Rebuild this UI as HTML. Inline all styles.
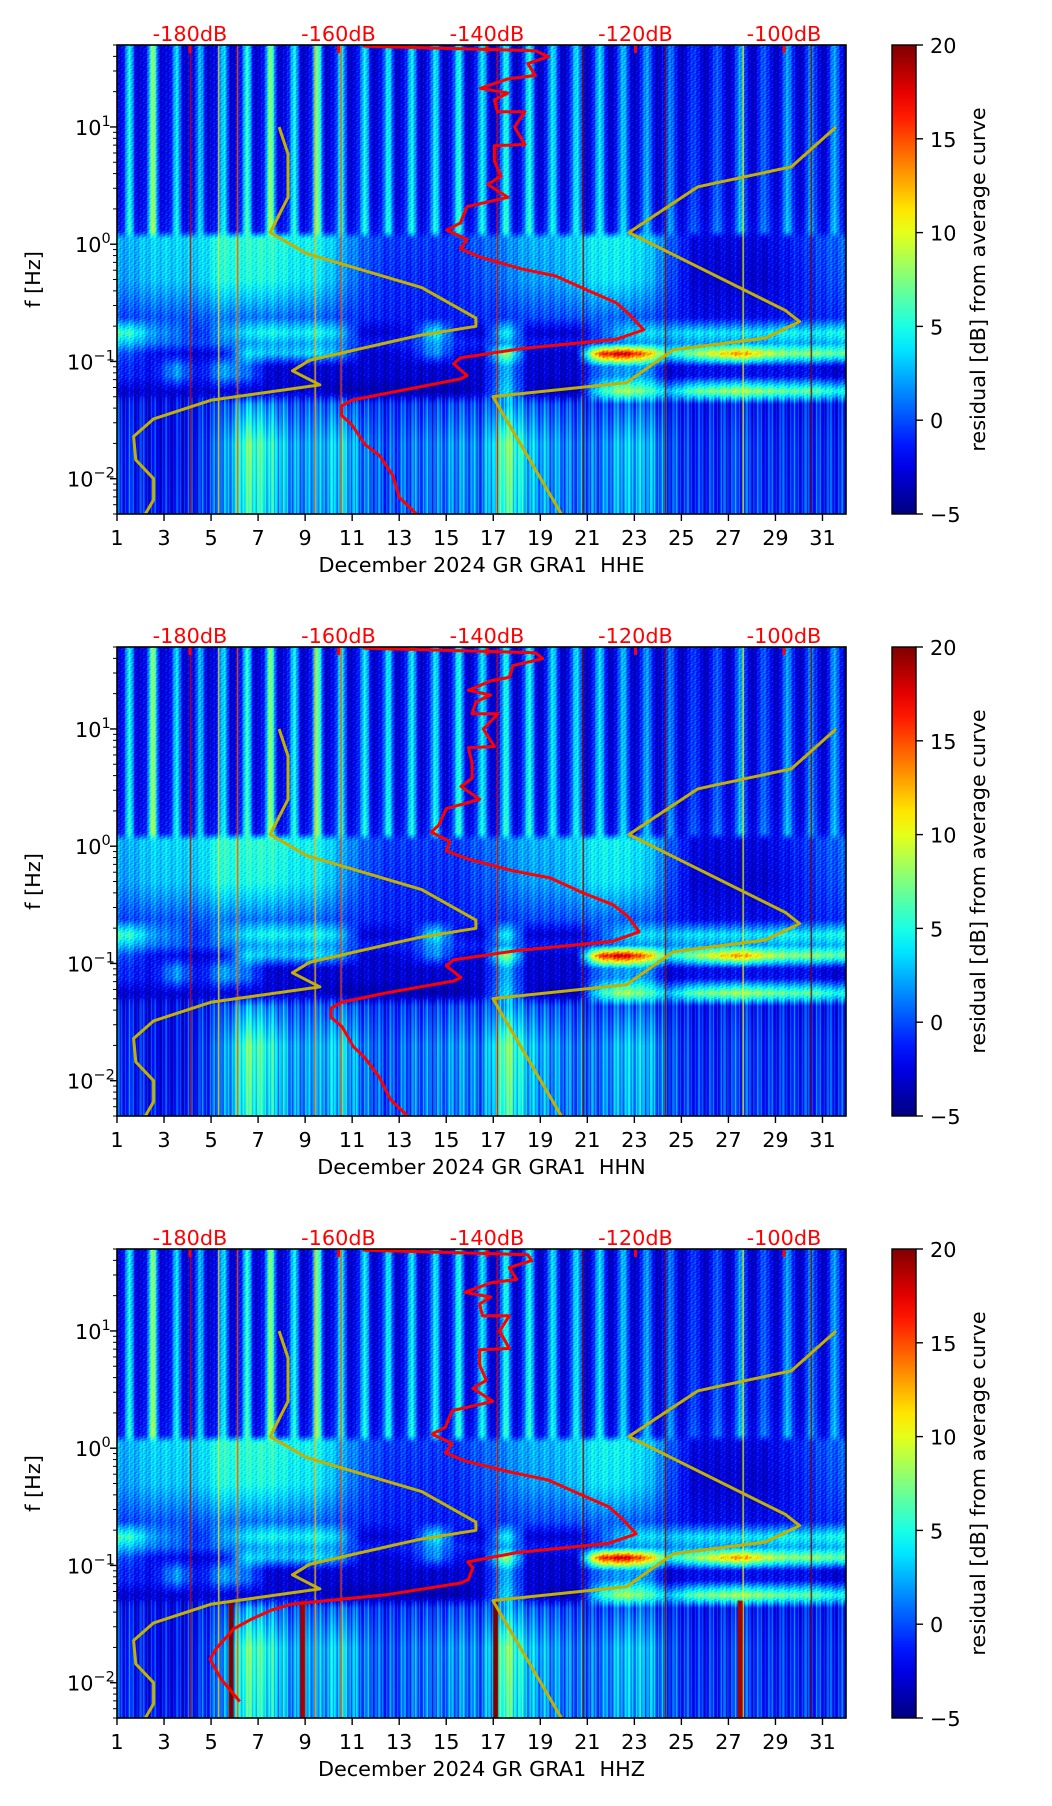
<!DOCTYPE html>
<html><head><meta charset="utf-8">
<style>
html,body{margin:0;padding:0;background:#fff;}
#root{position:relative;width:1052px;height:1806px;overflow:hidden;font-family:"DejaVu Sans","Liberation Sans",sans-serif;}
canvas{position:absolute;}
svg{position:absolute;left:0;top:0;}
text{white-space:pre;}
</style></head>
<body>
<div id="root">
<canvas id="c0" width="729" height="469" style="left:117px;top:45px"></canvas>
<canvas id="c1" width="729" height="469" style="left:117px;top:647px"></canvas>
<canvas id="c2" width="729" height="469" style="left:117px;top:1249px"></canvas>
<svg id="ov" width="1052" height="1806"></svg>
</div>
<script>
// ---- data ----
const channels = ["HHE","HHN","HHZ"];
const xTicks = [1,3,5,7,9,11,13,15,17,19,21,23,25,27,29,31];
const dbTicks = [-180,-160,-140,-120,-100];
const yTickExp = [1,0,-1,-2];
const cbTicks = [-5,0,5,10,15,20];
// per-day residual levels (dB) by frequency band
const stripe = [6,10,5,4,5,7,10,6,9,6,6,6,6,6,7,6,7,7,6,6,6,5,4,3,1,2,4,2,4,3,4];
const midBand = [2,3,3,3,5,5,5,4,4,2,0,-1,-1,-1,-1,0,1,2,2,3,4,4,3,0,-3,-3,-3,-3,-2,-1,0];
const band020 = [6,2,1,-1,2,4,5,4,5,3,-3,-3,-2,5,-2,-3,5,-3,-3,-3,0,3,4,3,4,4,4,4,5,4,5];
const band012 = [0,-2,-2,-3,-2,4,3,3,4,2,-3,-3,-2,2,-2,-3,9,-3,-3,-3,16,19,14,5,8,11,14,10,8,8,7];
const band009 = [-1,-2,2,-2,2,1,-3,-3,-3,-3,-3,-3,-3,-3,-3,-3,3,-3,-3,-3,1,2,2,-3,-2,-2,-2,-2,-2,-2,-3];
const band006 = [-3,-3,-3,-3,-3,-3,-3,-3,-3,-4,-4,-4,-4,-4,-4,-3,4,-3,-4,-4,5,9,7,3,7,8,9,8,7,7,5];
const lowBand = [-1,-2,-2,-1,1,7,5,2,2,4,1,0,1,1,2,1,8,3,2,1,1,3,3,0,-1,-1,0,-1,-1,-1,-1];
const spikeDays = [4.1,5.3,6.1,9.4,10.5,17.15,20.8,24.3,27.6,30.5];
const spikeVals = [18,10,15,12,15,18,20,20,10,20];
const lowSpikeDays3 = [5.85,8.9,17.1,27.5];
const lowSpikeVals3 = [20,19,21,19];
// noise models (dB vs log10 f)
const nlnmLogf = [1.0,0.77,0.40,0.10,-0.08,-0.37,-0.63,-0.70,-0.78,-0.99,-1.08,-1.20,-1.33,-1.49,-1.64,-1.84,-2.0,-2.18,-2.30];
const nlnmDb = [-168.0,-166.8,-166.8,-169.2,-164.3,-148.8,-141.5,-141.5,-149.3,-163.9,-166.2,-162.5,-177.1,-184.9,-187.6,-187.3,-184.9,-184.9,-186.0];
const nhnmLogf = [1.0,0.66,0.49,0.10,-0.565,-0.66,-0.80,-0.90,-1.18,-1.30,-2.30];
const nhnmDb = [-93.0,-99.0,-111.6,-120.9,-99.8,-97.9,-102.5,-114.9,-121.2,-139.2,-130.0];
// average PSD curves
const redLogf = [1.69,1.65,1.60,1.54,1.44,1.41,1.33,1.29,1.23,1.13,1.13,1.0,0.85,0.84,0.71,0.58,0.51,0.40,0.32,0.18,0.12,0.04,-0.04,-0.11,-0.21,-0.27,-0.40,-0.50,-0.60,-0.73,-0.81,-0.89,-0.97,-1.02,-1.12,-1.15,-1.25,-1.33,-1.38,-1.46,-1.54,-1.71,-1.80,-1.97,-2.16,-2.30];
const redDbHHE = [-156.7,-133.5,-131.7,-134.5,-133.5,-137.2,-140.9,-137.2,-139.0,-138.6,-134.9,-136.3,-134.9,-139.0,-139.0,-138.1,-139.9,-137.2,-142.7,-143.6,-145.4,-142.7,-143.6,-140.9,-135.4,-130.8,-126.2,-122.6,-120.8,-118.9,-122.6,-135.4,-143.6,-144.5,-142.7,-143.6,-151.8,-158.2,-159.6,-159.6,-158.2,-156.4,-154.5,-152.7,-151.8,-149.5];
const redDbHHN = [-156.7,-133.5,-132.5,-136.5,-137.0,-139.5,-142.5,-139.5,-141.5,-142.0,-138.5,-140.5,-139.0,-142.5,-142.0,-142.0,-143.5,-141.0,-145.5,-146.5,-147.5,-145.0,-145.5,-142.5,-136.5,-131.5,-127.0,-123.0,-121.0,-119.5,-123.0,-136.0,-144.5,-145.5,-143.5,-144.5,-153.5,-159.5,-161.0,-161.0,-159.5,-158.0,-156.5,-154.5,-153.0,-150.7];
const redDbHHZ = [-156.7,-134.5,-134.0,-137.0,-136.0,-139.5,-143.0,-139.5,-141.0,-140.6,-137.0,-138.3,-137.0,-141.0,-141.0,-140.1,-141.9,-139.2,-144.7,-145.6,-147.4,-144.7,-145.6,-142.9,-136.4,-131.8,-127.2,-123.6,-121.8,-119.9,-123.6,-136,-142.6,-141.9,-142.5,-143.5,-153.6,-166.3,-169,-171.8,-174.1,-176.5,-177.3,-175.8,-173.3];
const redDbs = [redDbHHE, redDbHHN, redDbHHZ];

// ---- layout ----
const X0=117, X1=846, PH=469, tops=[45,647,1249];
const LOGTOP=Math.log10(50), LOGBOT=Math.log10(0.005);
function xDay(d){return X0+(d-1)/(32-1)*(X1-X0);}
function xDb(db){return 190+(db+180)*7.425;}
function yLog(top,l){return top+(LOGTOP-l)/(LOGTOP-LOGBOT)*PH;}

function jet(t){t=Math.max(0,Math.min(1,t));
  const c=v=>Math.max(0,Math.min(1,1.5-Math.abs(v)));
  return [c(4*t-3)*255,c(4*t-2)*255,c(4*t-1)*255];}
function dayInterp(arr,day){let u=day-1.5;let i=Math.floor(u);let f=u-i;
  const a=arr[Math.max(0,Math.min(30,i))],b=arr[Math.max(0,Math.min(30,i+1))];return a+(b-a)*f;}

function drawHeat(p){
  const cv=document.getElementById('c'+p);const ctx=cv.getContext('2d');
  const W=cv.width,H=cv.height;const img=ctx.createImageData(W,H);
  for(let x=0;x<W;x++){
    const day=1+x/(W)*31;const di=Math.max(0,Math.min(30,Math.floor(day)-1));
    const fr=day-Math.floor(day);
    const s=Math.exp(-Math.pow((fr-0.5)/0.2,2));
    const tex=1.3*Math.sin(x*1.71)+0.9*Math.sin(x*0.53+1)+0.7*Math.sin(x*3.1+2);
    const up=-2.5+(stripe[di]+2.5)*s*0.85;
    const mid=dayInterp(midBand,day),b20=dayInterp(band020,day),b12=dayInterp(band012,day),b09=dayInterp(band009,day),b06=dayInterp(band006,day),lo=dayInterp(lowBand,day);
    const anch=[[1.7,up-0.5],[0.35,up],[0.12,up+0.5],[0.05,mid+0.5],[-0.3,mid],[-0.62,mid*0.4-1],[-0.75,b20],[-0.84,b20*0.5],[-0.93,b12],[-1.04,b09],[-1.12,b09],[-1.25,b06],[-1.36,lo*0.5-1],[-1.7,lo],[-2.3,lo*0.8]];
    for(let y=0;y<H;y++){
      const l=LOGTOP-(y/H)*(LOGTOP-LOGBOT);
      let v=anch[anch.length-1][1];
      for(let k=0;k<anch.length-1;k++){if(l<=anch[k][0]&&l>=anch[k+1][0]){const f=(anch[k][0]-l)/(anch[k][0]-anch[k+1][0]);v=anch[k][1]+(anch[k+1][1]-anch[k][1])*f;break;}}
      if(l<-1.3) v+=tex*1.4; else v+=tex*0.6+1.0*Math.sin(y*2.3+x*0.7)+0.8*Math.sin(y*0.9+x*1.3);
      const [r,g,b]=jet((v+5)/25);const o=(y*W+x)*4;
      img.data[o]=r;img.data[o+1]=g;img.data[o+2]=b;img.data[o+3]=255;
    }
  }
  ctx.putImageData(img,0,0);
  for(let i=0;i<spikeDays.length;i++){
    const [r,g,b]=jet((spikeVals[i]+5)/25);ctx.fillStyle=`rgb(${r|0},${g|0},${b|0})`;
    ctx.fillRect(xDay(spikeDays[i])-X0,0,1.3,H);
  }
  if(p===2){for(let i=0;i<lowSpikeDays3.length;i++){
    const [r,g,b]=jet((lowSpikeVals3[i]+5)/25);ctx.fillStyle=`rgb(${r|0},${g|0},${b|0})`;
    const y0=yLog(0,-1.3);ctx.fillRect(xDay(lowSpikeDays3[i])-X0-2.5,y0,5,H-y0);}}
}

const NS="http://www.w3.org/2000/svg";const ov=document.getElementById('ov');
function el(tag,attrs,parent){const e=document.createElementNS(NS,tag);for(const k in attrs)e.setAttribute(k,attrs[k]);(parent||ov).appendChild(e);return e;}

const defs=el('defs',{});
const lg=el('linearGradient',{id:'jetg',x1:0,y1:1,x2:0,y2:0},defs);
for(let i=0;i<=20;i++){const [r,g,b]=jet(i/20);el('stop',{offset:i/20,'stop-color':`rgb(${r|0},${g|0},${b|0})`},lg);}

for(let p=0;p<3;p++){
  drawHeat(p);
  const top=tops[p],bot=top+PH;
  const g=el('g',{});
  
  
  const clipId='clip'+p;
  const cp=el('clipPath',{id:clipId},defs);el('rect',{x:X0,y:top,width:X1-X0,height:PH},cp);
  const lines=el('g',{'clip-path':`url(#${clipId})`},g);
  const mk=(lf,db,col,name)=>{const pts=lf.map((l,i)=>xDb(db[i]).toFixed(1)+','+yLog(top,l).toFixed(1)).join(' ');
    const pl=el('polyline',{points:pts,fill:'none',stroke:col,'stroke-width':3,'stroke-linejoin':'round'},lines);
    
    };
  mk(nlnmLogf,nlnmDb,'#c3b000','nlnm-curve');
  mk(nhnmLogf,nhnmDb,'#c3b000','nhnm-curve');
  mk(redLogf,redDbs[p],'#ff0000','average-psd-curve');
  dbTicks.forEach(d=>{const t=el('rect',{x:xDb(d)-1.5,y:top,width:3,height:8,fill:'#ff0000'},g);
    
    
    const tx=el('text',{x:xDb(d),y:top-4,'text-anchor':'middle','font-size':'20.8px',fill:'#ff0000'},g);tx.textContent=d+'dB';
    
    });
  const fr=el('rect',{x:X0,y:top,width:X1-X0,height:PH,fill:'none',stroke:'#000','stroke-width':1.6},g);
  
  
  xTicks.forEach(d=>{const x=xDay(d);el('line',{x1:x,y1:bot,x2:x,y2:bot+7,stroke:'#000','stroke-width':1.4},g);
    const t=el('text',{x:x,y:bot+31,'text-anchor':'middle','font-size':'20.8px',fill:'#000'},g);t.textContent=d;
    
    });
  const xl=el('text',{x:(X0+X1)/2,y:bot+58,'text-anchor':'middle','font-size':'20.8px',fill:'#000','xml:space':'preserve'},g);
  xl.textContent='December 2024 GR GRA1  '+channels[p];
  
  
  for(let e=-3;e<=1;e++){for(let m=1;m<=9;m++){const l=e+Math.log10(m);if(l>LOGTOP||l<LOGBOT)continue;
    const y=yLog(top,l);el('line',{x1:X0-(m===1?7:4),y1:y,x2:X0,y2:y,stroke:'#000','stroke-width':m===1?1.4:1},g);}}
  yTickExp.forEach(e=>{const y=yLog(top,e);const t=el('text',{x:X0-30,y:y+8,'font-size':'20.8px',fill:'#000'},g);
    t.textContent='10';const s=el('tspan',{'font-size':'14.5px',dy:-9},t);s.textContent=e<0?'\u2212'+(-e):''+e;
    t.setAttribute('x',e<0?X0-50:X0-42);
    
    });
  const yl=el('text',{x:0,y:0,'text-anchor':'middle','font-size':'20.8px',fill:'#000',transform:`translate(40,${top+PH/2}) rotate(-90)`},g);
  yl.textContent='f [Hz]';
  
  
  const cb=el('rect',{x:892,y:top,width:24,height:PH,fill:'url(#jetg)',stroke:'#000','stroke-width':1.4},g);
  
  
  cbTicks.forEach(v=>{const y=bot-(v+5)/25*PH;el('line',{x1:916,y1:y,x2:923,y2:y,stroke:'#000','stroke-width':1.4},g);
    const t=el('text',{x:930,y:y+8,'font-size':'20.8px',fill:'#000'},g);t.textContent=v<0?'\u2212'+(-v):v;
    
    });
  const cl=el('text',{x:0,y:0,'text-anchor':'middle','font-size':'20.8px',fill:'#000',transform:`translate(985,${top+PH/2}) rotate(-90)`},g);
  cl.textContent='residual [dB] from average curve';
  
  
}
</script>
</body></html>
